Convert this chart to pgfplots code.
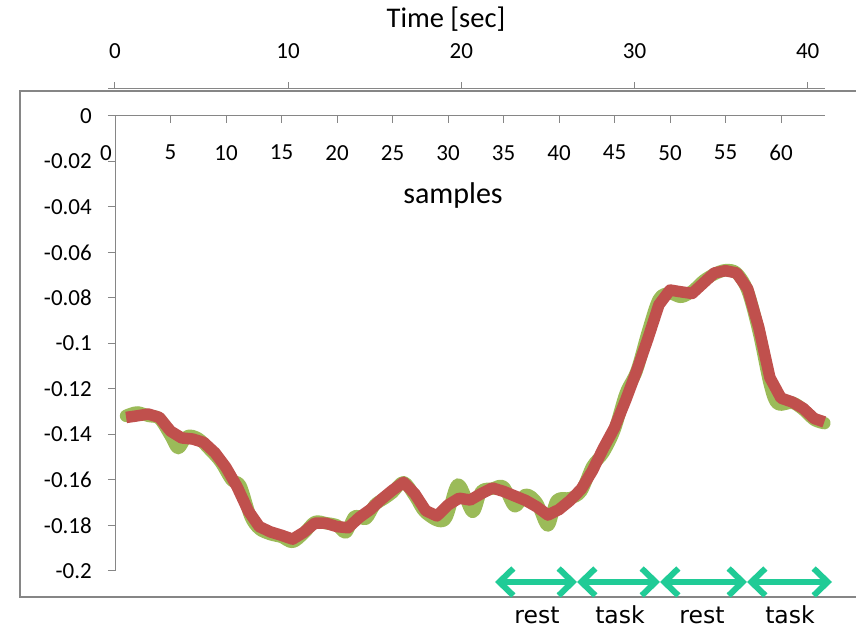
\documentclass[border=0pt]{standalone}
\usepackage{fontspec}
\setmainfont{Carlito}
\newfontfamily\tahoma{DejaVu Sans}
\usepackage{pgfplots}
\usepackage{pgfplotstable}
\pgfplotsset{compat=1.18}
\usetikzlibrary{arrows.meta}
\definecolor{exred}{RGB}{192,80,77}
\definecolor{exgreen}{RGB}{155,187,89}
\definecolor{axgray}{RGB}{134,134,134}
\definecolor{arrteal}{RGB}{32,203,150}

\pgfplotstableread{
s v
1 -0.1325
2 -0.1318
3 -0.1310
4 -0.1325
5 -0.1385
6 -0.1415
7 -0.1420
8 -0.1435
9 -0.1480
10 -0.1545
11 -0.1630
12 -0.1735
13 -0.1805
14 -0.1828
15 -0.1843
16 -0.1860
17 -0.1830
18 -0.1790
19 -0.1790
20 -0.1805
21 -0.1810
22 -0.1765
23 -0.1730
24 -0.1685
25 -0.1645
26 -0.1610
27 -0.1660
28 -0.1735
29 -0.1758
30 -0.1710
31 -0.1680
32 -0.1688
33 -0.1660
34 -0.1635
35 -0.1650
36 -0.1670
37 -0.1690
38 -0.1718
39 -0.1754
40 -0.1730
41 -0.1690
42 -0.1640
43 -0.1560
44 -0.1460
45 -0.1370
46 -0.1250
47 -0.1120
48 -0.0980
49 -0.0830
50 -0.0765
51 -0.0773
52 -0.0780
53 -0.0735
54 -0.0690
55 -0.0680
56 -0.0690
57 -0.0760
58 -0.0930
59 -0.1150
60 -0.1240
61 -0.1257
62 -0.1285
63 -0.1330
63.9 -0.1345
}\redtable

\pgfplotstableread{
s v
1 -0.1318
2 -0.1303
3 -0.1318
4 -0.1330
5 -0.1405
5.7 -0.1460
6.5 -0.1408
7.5 -0.1418
8.5 -0.1465
9.5 -0.1520
10.5 -0.1600
11.3 -0.1625
12.2 -0.1760
13 -0.1815
14 -0.1838
15 -0.1850
16 -0.1872
17 -0.1835
18 -0.1785
19 -0.1790
20 -0.1800
20.8 -0.1830
21.6 -0.1760
22.6 -0.1770
23.4 -0.1710
24.3 -0.1680
25 -0.1655
26 -0.1610
27 -0.1670
28 -0.1745
29.7 -0.1775
30.9 -0.1620
32.2 -0.1740
33 -0.1650
34 -0.1638
35 -0.1630
36 -0.1715
37 -0.1665
38 -0.1700
39 -0.1800
39.8 -0.1690
41 -0.1680
42 -0.1650
43 -0.1540
44 -0.1480
45 -0.1380
46 -0.1220
47 -0.1120
48 -0.0950
49 -0.0805
50 -0.0780
51 -0.0795
52 -0.0770
53 -0.0725
54 -0.0695
55 -0.0678
56 -0.0690
57 -0.0770
58 -0.0950
59 -0.1180
59.7 -0.1265
61 -0.1260
62 -0.1290
63 -0.1335
63.9 -0.1350
}\greentable

\begin{document}
\begin{tikzpicture}
\useasboundingbox (0pt,0pt) rectangle (856pt,628pt);
\draw[axgray, line width=1.2pt] (860pt,537pt) -- (20pt,537pt) -- (20pt,31pt) -- (860pt,31pt);

% top time axis
\begin{axis}[
  at={(108pt,538.5pt)}, anchor=south west, scale only axis,
  width=717pt, height=1pt,
  xmin=-0.4, xmax=41.0, ymin=0, ymax=1,
  axis x line=top, hide y axis,
  x axis line style={axgray, line width=1pt, -},
  xtick={0,10,20,30,40}, xticklabels={0,10,20,30,40},
  xtick align=outside, major tick length=6pt,
  xtick style={axgray, line width=1pt},
  xticklabel style={font=\fontsize{23}{27}\selectfont, anchor=south, inner sep=0pt, yshift=24pt},
  ytick=\empty,
]
\addplot[draw=none] coordinates {(0,0.5)};
\end{axis}

% main axis
\begin{axis}[
  at={(115pt,57pt)}, anchor=south west, scale only axis,
  width=710.4pt, height=455pt,
  xmin=0, xmax=64, ymin=-0.2, ymax=0,
  clip=false,
  axis x line=top, axis y line=left,
  axis line style={axgray, line width=1pt, -},
  xtick={5,10,15,20,25,30,35,40,45,50,55,60},
  xticklabels={5,10,15,20,25,30,35,40,45,50,55,60},
  extra x ticks={0}, extra x tick labels={0},
  extra x tick style={xticklabel style={xshift=-9pt}},
  ytick={-0.2,-0.18,-0.16,-0.14,-0.12,-0.1,-0.08,-0.06,-0.04,-0.02,0},
  yticklabels={-0.2,-0.18,-0.16,-0.14,-0.12,-0.1,-0.08,-0.06,-0.04,-0.02,0},
  xtick align=inside, ytick align=outside,
  major tick length=7pt,
  tick style={axgray, line width=1pt},
  xticklabel style={font=\fontsize{23}{27}\selectfont, anchor=north, inner sep=0pt, yshift=-29pt},
  yticklabel style={font=\fontsize{23}{27}\selectfont, anchor=east, inner sep=0pt, xshift=-16pt},
]
\addplot[exgreen, line width=12.5pt, smooth, tension=0.55, line join=round, line cap=round] table[x=s,y=v] {\greentable};
\addplot[exred, line width=11.5pt, line join=round] table[x=s,y=v] {\redtable};
\end{axis}

\node[font=\fontsize{28.5}{33}\selectfont] at (446pt,609pt) {Time [sec]};
\node[font=\fontsize{30}{35}\selectfont] at (453pt,432pt) {samples};

\tikzset{tealarr/.style={arrteal, line width=6pt, {Straight Barb[length=14pt,width=27pt]}-{Straight Barb[length=14pt,width=27pt]}}}
\draw[tealarr] (495pt,46pt) -- (577pt,46pt);
\draw[tealarr] (577pt,46pt) -- (660pt,46pt);
\draw[tealarr] (660pt,46pt) -- (747pt,46pt);
\draw[tealarr] (747pt,46pt) -- (832pt,46pt);

\node[font=\tahoma\fontsize{23.5}{28}\selectfont] at (537pt,13pt) {rest};
\node[font=\tahoma\fontsize{23.5}{28}\selectfont] at (620pt,13pt) {task};
\node[font=\tahoma\fontsize{23.5}{28}\selectfont] at (702pt,13pt) {rest};
\node[font=\tahoma\fontsize{23.5}{28}\selectfont] at (790pt,13pt) {task};
\end{tikzpicture}
\end{document}
